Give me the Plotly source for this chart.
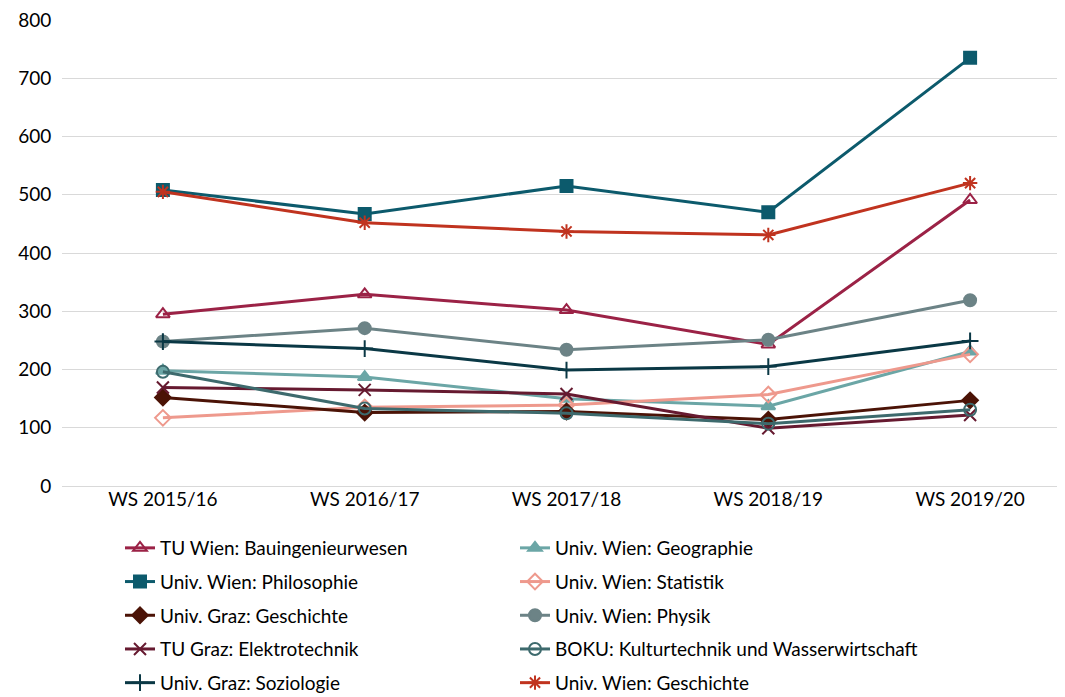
import plotly.graph_objects as go

categories = ["WS 2015/16", "WS 2016/17", "WS 2017/18", "WS 2018/19", "WS 2019/20"]

tu_wien_bau = [295, 329, 302, 243, 491]
wien_geographie = [198, 187, 150, 137, 231]
wien_philosophie = [508, 467, 515, 470, 735]
wien_statistik = [117, 135, 139, 157, 226]
graz_geschichte = [152, 126, 128, 114, 147]
wien_physik = [248, 271, 234, 251, 319]
tu_graz_elektro = [169, 165, 158, 99, 122]
boku_kultur = [196, 133, 125, 107, 131]
graz_soziologie = [248, 236, 199, 205, 249]
wien_geschichte = [505, 452, 437, 431, 520]

series = [
    ("TU Wien: Bauingenieurwesen", tu_wien_bau, "#9B2246", "triangle-up-open", "legend"),
    ("Univ. Wien: Geographie", wien_geographie, "#6BA6A6", "triangle-up", "legend2"),
    ("Univ. Wien: Philosophie", wien_philosophie, "#0C5A6C", "square", "legend"),
    ("Univ. Wien: Statistik", wien_statistik, "#EE998D", "diamond-open", "legend2"),
    ("Univ. Graz: Geschichte", graz_geschichte, "#4B1306", "diamond", "legend"),
    ("Univ. Wien: Physik", wien_physik, "#6C8386", "circle", "legend2"),
    ("TU Graz: Elektrotechnik", tu_graz_elektro, "#661A30", "x-thin-open", "legend"),
    ("BOKU: Kulturtechnik und Wasserwirtschaft", boku_kultur, "#3D6A6D", "circle-open", "legend2"),
    ("Univ. Graz: Soziologie", graz_soziologie, "#0A3845", "cross-thin-open", "legend"),
    ("Univ. Wien: Geschichte", wien_geschichte, "#C0331F", "asterisk-open", "legend2"),
]

x_idx = list(range(len(categories)))

fig = go.Figure()
for i, (name, vals, color, symbol, leg) in enumerate(series):
    fig.add_trace(go.Scatter(
        x=x_idx, y=vals, name=name, mode="lines+markers",
        line=dict(color=color, width=3),
        marker=dict(symbol=symbol, size=12, color=color,
                    line=dict(color=color, width=2)),
        legend=leg, legendgroup=f"g{i}",
    ))

font_family = "Lato, Carlito, Calibri, sans-serif"
legend_common = dict(
    orientation="v", yanchor="top", xanchor="left",
    font=dict(family=font_family, size=19, color="#000000"),
    bgcolor="rgba(0,0,0,0)", tracegroupgap=6, itemwidth=30,
    traceorder="grouped",
)

plot_w = 1009.0
fig.update_layout(
    width=1065, height=697,
    margin=dict(l=54, r=2, t=12, b=219, autoexpand=False),
    plot_bgcolor="white", paper_bgcolor="white",
    font=dict(family=font_family, size=19, color="#000000"),
    xaxis=dict(
        tickmode="array", tickvals=x_idx, ticktext=categories,
        range=[-0.5, 4.5], showgrid=False, zeroline=False,
        showline=False, ticks="", tickfont=dict(size=19),
    ),
    yaxis=dict(
        range=[0, 800], dtick=100, showgrid=True, gridcolor="#D9D9D9",
        gridwidth=1, zeroline=True, zerolinecolor="#D9D9D9", zerolinewidth=1,
        showline=False, ticks="", tickfont=dict(size=19), ticksuffix="  ",
        ticklabeloverflow="allow", automargin=False,
    ),
    legend=dict(x=(120 - 62) / plot_w, y=-0.0923, **legend_common),
    legend2=dict(x=(515 - 62) / plot_w, y=-0.0923, **legend_common),
)

fig.write_html("out.html")
